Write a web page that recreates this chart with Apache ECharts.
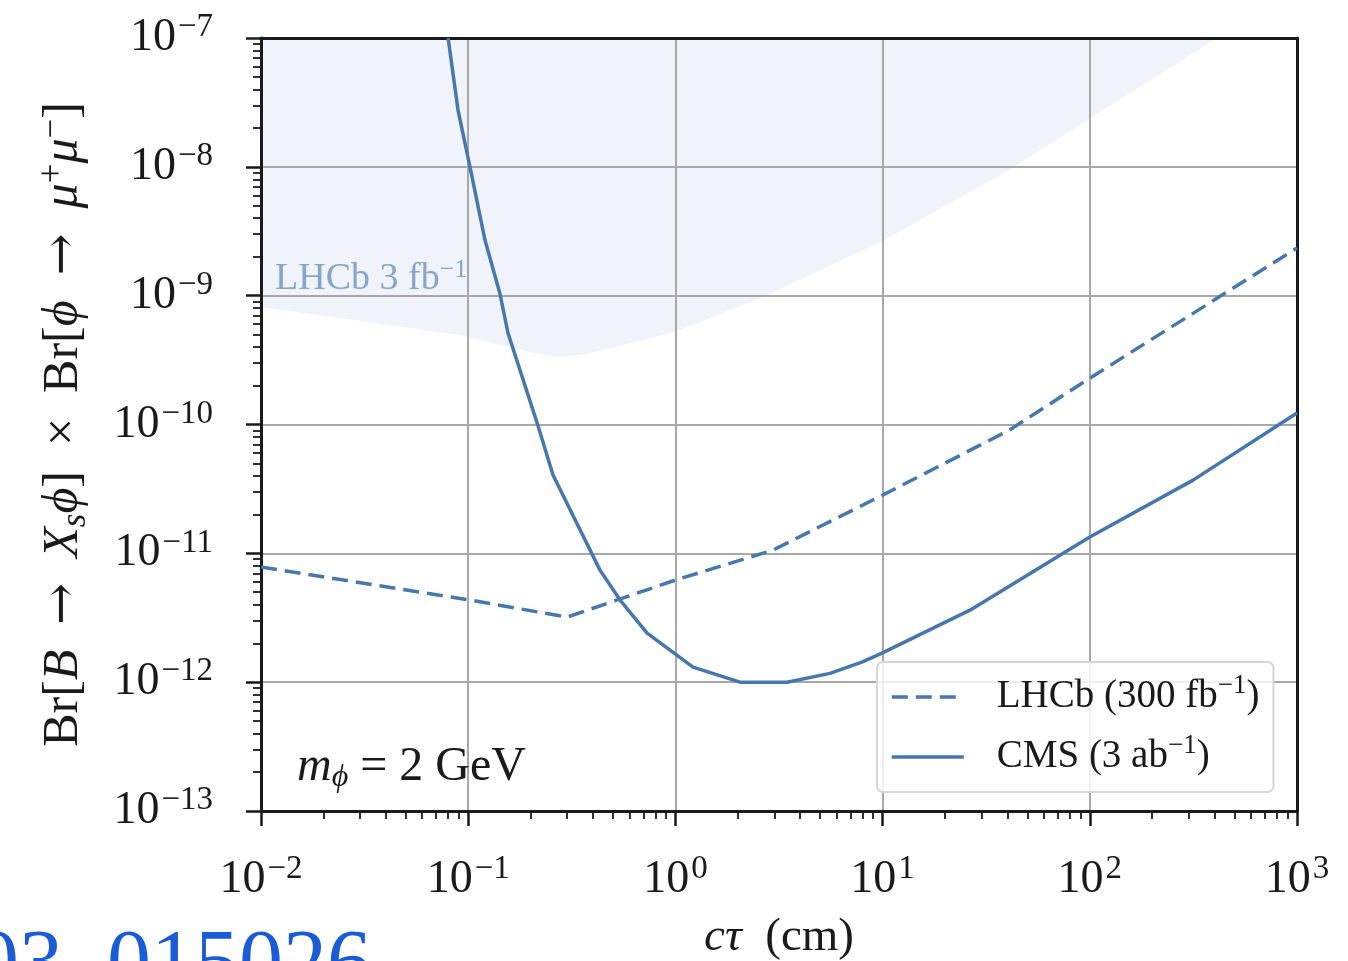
<!DOCTYPE html>
<html>
<head>
<meta charset="utf-8">
<script src="https://cdn.jsdelivr.net/npm/echarts@6/dist/echarts.min.js"></script>
<style>
  html, body { margin: 0; padding: 0; background: #ffffff; }
  #chart { width: 1348px; height: 961px; }
</style>
</head>
<body>
<div id="chart"></div>
<script>
// Decay length c*tau (cm) and branching-ratio reach for a 2 GeV scalar.
const cmsCtau = [0.080, 0.0893, 0.102, 0.1205, 0.142, 0.1556, 0.215, 0.2566, 0.4325, 0.541, 0.730, 1.216, 2.05, 3.46, 5.57, 7.94, 9.93, 26.4, 100, 315, 1000];
const cmsBr   = [1e-7, 2.76e-8, 1e-8, 2.7e-9, 1.05e-9, 5.13e-10, 1.03e-10, 4.05e-11, 7.41e-12, 4.34e-12, 2.4e-12, 1.31e-12, 1.0e-12, 1.0e-12, 1.17e-12, 1.43e-12, 1.68e-12, 3.62e-12, 1.34e-11, 3.7e-11, 1.23e-10];

const lhcb300Ctau = [0.01, 0.102, 0.30, 1.0, 2.96, 10, 41, 100, 1000];
const lhcb300Br   = [7.82e-12, 4.34e-12, 3.2e-12, 6.2e-12, 1.06e-11, 2.83e-11, 9.06e-11, 2.29e-10, 2.34e-9];

// Lower edge of the region already excluded with 3 fb^-1
const lhcb3Ctau = [0.01, 0.0912, 0.1986, 0.277, 0.387, 0.984, 2.65, 10.2, 40.7, 411];
const lhcb3Br   = [8.17e-10, 4.94e-10, 3.65e-10, 3.33e-10, 3.58e-10, 5.21e-10, 9.75e-10, 2.7e-9, 9.44e-9, 1e-7];

const xExpRange = [-2, 3];
const yExpRange = [-13, -7];

const SERIF = "'Liberation Serif', 'DejaVu Serif', serif";
const ARROW_FONT = "'DejaVu Serif', serif";
const LINE_BLUE = '#4678ad';
const INK = '#1a1a1a';
const GAP = '\u2002';

function zip(xs, ys) { return xs.map((x, i) => [x, ys[i]]); }

// minor tick positions (log10 units) at 2..9 x 10^e
function minorTicks(range) {
  const out = [];
  for (let e = range[0]; e < range[1]; e++) {
    for (let k = 2; k <= 9; k++) out.push(e + Math.log10(k));
  }
  return out;
}

function powLabel(v) {
  const e = Math.round(Math.log10(v));
  return '10{sup|' + (e < 0 ? '\u2212' + (-e) : String(e)) + '}';
}

const tickLabel = {
  fontFamily: SERIF, fontSize: 46, color: INK, lineHeight: 54,
  rich: { sup: { fontFamily: SERIF, fontSize: 33, lineHeight: 33, verticalAlign: 'top', color: INK, padding: [0, 0, 0, 2] } }
};

const spine = { show: true, onZero: false, lineStyle: { color: INK, width: 3 } };
const gridLine = { show: true, lineStyle: { color: '#a8a8a8', width: 2 } };

const chart = echarts.init(document.getElementById('chart'), null, { renderer: 'canvas' });

chart.setOption({
  animation: false,
  backgroundColor: '#ffffff',
  grid: { left: 261, top: 38, width: 1036, height: 773, containLabel: false, outerBoundsMode: 'none' },
  xAxis: [
    {
      type: 'log', logBase: 10, min: 0.01, max: 1000, splitNumber: 5,
      position: 'bottom', z: 3,
      axisLine: spine,
      axisTick: { show: true, length: 15, lineStyle: { color: INK, width: 2.5 } },
      axisLabel: Object.assign({ formatter: powLabel, margin: 42 }, tickLabel),
      splitLine: gridLine,
      minorTick: { show: false },
      name: '{i|cτ}  (cm)',
      nameLocation: 'middle', nameGap: 100,
      nameTextStyle: {
        fontFamily: SERIF, fontSize: 47, color: INK, lineHeight: 52,
        rich: { i: { fontFamily: SERIF, fontStyle: 'italic', fontSize: 47, color: INK, lineHeight: 52 } }
      }
    },
    {
      type: 'value', min: xExpRange[0], max: xExpRange[1], position: 'bottom', z: 3,
      axisLine: { show: false, onZero: false },
      axisTick: { show: true, length: 8, customValues: minorTicks(xExpRange), lineStyle: { color: INK, width: 1.8 } },
      axisLabel: { show: false }, splitLine: { show: false }
    },
    {
      type: 'value', min: xExpRange[0], max: xExpRange[1], position: 'top', z: 3,
      axisLine: spine, axisTick: { show: false }, axisLabel: { show: false }, splitLine: { show: false }
    }
  ],
  yAxis: [
    {
      type: 'log', logBase: 10, min: 1e-13, max: 1e-7, splitNumber: 6,
      position: 'left', z: 3,
      axisLine: spine,
      axisTick: { show: true, length: 15, lineStyle: { color: INK, width: 2.5 } },
      axisLabel: Object.assign({ formatter: powLabel, margin: 48 }, tickLabel),
      splitLine: gridLine,
      minorTick: { show: false },
      name: 'Br[{i|B}' + GAP + '{a|→}' + GAP + '{i|X}{sub|s}{i|ϕ}]' + GAP + '×' + GAP +
            'Br[{i|ϕ}' + GAP + '{a|→}' + GAP + '{i|μ}{sup|+}{i|μ}{sup|−}]',
      nameLocation: 'middle', nameGap: 168,
      nameTextStyle: {
        fontFamily: SERIF, fontSize: 50, color: INK, lineHeight: 58,
        rich: {
          i: { fontFamily: SERIF, fontStyle: 'italic', fontSize: 50, color: INK, lineHeight: 58 },
          a: { fontFamily: ARROW_FONT, fontSize: 50, color: INK, lineHeight: 58 },
          sub: { fontFamily: SERIF, fontStyle: 'italic', fontSize: 35, color: INK, lineHeight: 35, verticalAlign: 'bottom' },
          sup: { fontFamily: SERIF, fontSize: 35, color: INK, lineHeight: 35, verticalAlign: 'top' }
        }
      }
    },
    {
      type: 'value', min: yExpRange[0], max: yExpRange[1], position: 'left', z: 3,
      axisLine: { show: false, onZero: false },
      axisTick: { show: true, length: 8, customValues: minorTicks(yExpRange), lineStyle: { color: INK, width: 1.8 } },
      axisLabel: { show: false }, splitLine: { show: false }
    },
    {
      type: 'value', min: yExpRange[0], max: yExpRange[1], position: 'right', z: 3,
      axisLine: spine, axisTick: { show: false }, axisLabel: { show: false }, splitLine: { show: false }
    }
  ],
  legend: {
    data: ['LHCb (300 fb−1)', 'CMS (3 ab−1)'],
    orient: 'vertical', left: 877, top: 662,
    padding: [10, 14, 10, 13], itemGap: 10,
    itemWidth: 72, itemHeight: 20,
    backgroundColor: 'rgba(255,255,255,0.8)',
    borderColor: '#d6d6d6', borderWidth: 2, borderRadius: 6,
    z: 10,
    itemStyle: { opacity: 0 },
    lineStyle: { width: 3.5 },
    formatter: name => name.replace('−1)', '{sup|−1})'),
    textStyle: {
      fontFamily: SERIF, fontSize: 39, color: INK, lineHeight: 50,
      padding: [0, 0, 0, 28],
      rich: { sup: { fontFamily: SERIF, fontSize: 27, lineHeight: 27, verticalAlign: 'top', color: INK } }
    }
  },
  series: [
    {
      name: 'LHCb 3 fb−1',
      type: 'line', xAxisIndex: 0, yAxisIndex: 0,
      data: zip(lhcb3Ctau, lhcb3Br),
      symbol: 'none', silent: true, z: 1,
      lineStyle: { width: 0, opacity: 0 },
      areaStyle: { color: 'rgba(70,120,190,0.11)', origin: 'end' }
    },
    {
      name: 'LHCb (300 fb−1)',
      type: 'line', xAxisIndex: 0, yAxisIndex: 0,
      data: zip(lhcb300Ctau, lhcb300Br),
      symbol: 'none', z: 4,
      lineStyle: { color: LINE_BLUE, width: 3.5, type: [16, 8] },
      itemStyle: { color: LINE_BLUE }
    },
    {
      name: 'CMS (3 ab−1)',
      type: 'line', xAxisIndex: 0, yAxisIndex: 0,
      data: zip(cmsCtau, cmsBr),
      symbol: 'none', z: 4,
      lineStyle: { color: LINE_BLUE, width: 3.5 },
      itemStyle: { color: LINE_BLUE }
    }
  ],
  graphic: [
    {
      type: 'text', x: 275, y: 279, z: 5, silent: true,
      style: {
        text: 'LHCb 3 fb{sup|−1}', fill: '#86a5c9',
        fontFamily: SERIF, fontSize: 38, verticalAlign: 'middle', lineHeight: 44,
        rich: { sup: { fontFamily: SERIF, fontSize: 26, lineHeight: 26, verticalAlign: 'top', fill: '#86a5c9' } }
      }
    },
    {
      type: 'text', x: 297, y: 767, z: 5, silent: true,
      style: {
        text: '{i|m}{sub|ϕ} = 2 GeV', fill: INK,
        fontFamily: SERIF, fontSize: 48, verticalAlign: 'middle', lineHeight: 54,
        rich: {
          i: { fontFamily: SERIF, fontStyle: 'italic', fontSize: 48, lineHeight: 54, fill: INK },
          sub: { fontFamily: SERIF, fontStyle: 'italic', fontSize: 32, lineHeight: 32, verticalAlign: 'bottom', fill: INK }
        }
      }
    },
    {
      type: 'text', x: -25, y: 967, z: 5, silent: true,
      style: {
        text: '03. 015026', fill: '#1a5bd6',
        fontFamily: SERIF, fontSize: 88, verticalAlign: 'middle'
      }
    }
  ]
});
</script>
</body>
</html>
